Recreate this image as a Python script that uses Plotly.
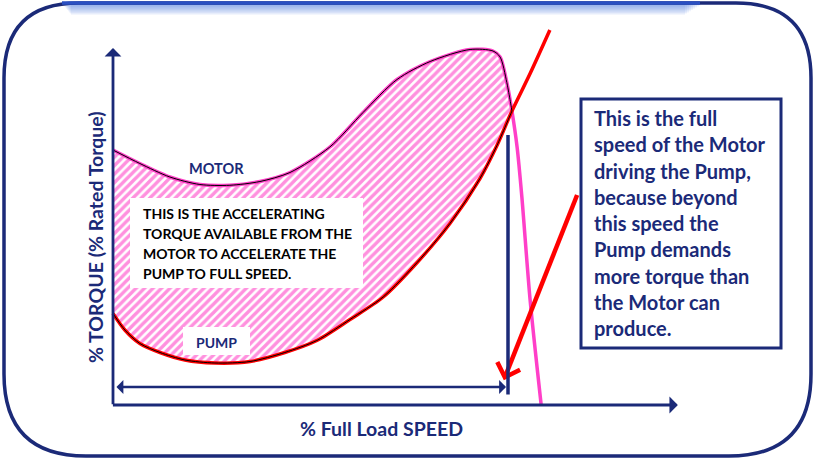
import math
import plotly.graph_objects as go

W, H = 818, 461

# ---------------- data (speed in % of full-load speed, torque in % rated) -------------
motor_speed = [0, 6.8, 14.4, 22.0, 29.6, 37.2, 44.8, 54.9, 63.3, 71.9, 80.3, 90.4,
               96.2, 98.0, 99.7, 101.0, 102.3, 103.5, 105.6, 108.4]
motor_torque = [170, 161, 152, 147, 146.5, 149, 155, 172, 195, 217, 229, 237,
                236, 232, 215, 196, 172, 139, 70, 0]
pump_speed = [0, 3.0, 6.8, 11.9, 18.2, 25.8, 34.7, 43.5, 51.6, 60.0, 68.4, 77.0,
              85.3, 92.9, 97.2, 101.0, 105.6, 110.6]
pump_torque = [61, 50, 41, 35, 30, 28, 29, 35, 43, 57, 72, 95,
               121, 151, 173, 196, 221, 250]
crossing_speed = 101.0
full_speed = 100
speed_axis_end = 143
torque_axis_end = 238
pointer_from = (117.5, 140)
pointer_to = (99.2, 18.5)

box_lines = ["This is the full", "speed of the Motor", "driving the Pump,",
             "because beyond", "this speed the", "Pump demands",
             "more torque than", "the Motor can", "produce."]
accel_lines = ["THIS IS THE ACCELERATING", "TORQUE AVAILABLE FROM THE",
               "MOTOR TO ACCELERATE THE", "PUMP TO FULL SPEED."]

# ---------------- style ----------------
NAVY = "#1B2A78"
PINK = "#FF3FC8"
RED = "#FF0000"
FONT = "Lato"

# pixel <-> axis mapping of the drawing
X0, SX = 113, 3.95
Y0, SY = 405, 1.5
xr = [(0 - X0) / SX, (W - X0) / SX]
yr = [(Y0 - H) / SY, Y0 / SY]


def fx(p):
    return p / W


def fy(p):
    return 1 - p / H


fig = go.Figure()

# hatched accelerating-torque region
m_idx = [i for i, s in enumerate(motor_speed) if s <= crossing_speed]
p_idx = [i for i, s in enumerate(pump_speed) if s <= crossing_speed]
reg_x = [motor_speed[i] for i in m_idx] + [pump_speed[i] for i in reversed(p_idx)]
reg_y = [motor_torque[i] for i in m_idx] + [pump_torque[i] for i in reversed(p_idx)]

fig.add_trace(go.Scatter(
    x=reg_x, y=reg_y, mode="lines", fill="toself",
    line=dict(width=0, shape="spline", smoothing=0.8),
    fillcolor="white",
    fillpattern=dict(shape="/", fgcolor="#FF22BE", bgcolor="white", size=6, solidity=0.58),
    hoverinfo="skip", showlegend=False))

fig.add_trace(go.Scatter(x=motor_speed, y=motor_torque, mode="lines",
                         line=dict(color=PINK, width=3.5, shape="spline", smoothing=0.8),
                         showlegend=False, hoverinfo="skip"))
fig.add_trace(go.Scatter(x=pump_speed, y=pump_torque, mode="lines",
                         line=dict(color=RED, width=3.5, shape="spline", smoothing=0.8),
                         showlegend=False, hoverinfo="skip"))
fig.add_trace(go.Scatter(x=reg_x, y=reg_y, mode="lines",
                         line=dict(color="black", width=1, shape="spline", smoothing=0.8),
                         showlegend=False, hoverinfo="skip"))

# red pointer arrow with open "V" head (head computed in pixel space)
sx_, sy_ = X0 + pointer_from[0] * SX, Y0 - pointer_from[1] * SY
tx_, ty_ = X0 + pointer_to[0] * SX, Y0 - pointer_to[1] * SY
back = math.atan2(sy_ - ty_, sx_ - tx_)
hl = 17
barbs = []
for ang in (back + math.radians(42), back - math.radians(48)):
    barbs.append((tx_ + hl * math.cos(ang), ty_ + hl * math.sin(ang)))


def to_data(p):
    return (p[0] - X0) / SX, (Y0 - p[1]) / SY


b1, b2 = to_data(barbs[0]), to_data(barbs[1])
fig.add_trace(go.Scatter(x=[pointer_from[0], pointer_to[0]], y=[pointer_from[1], pointer_to[1]],
                         mode="lines", line=dict(color=RED, width=4.5),
                         showlegend=False, hoverinfo="skip"))
fig.add_trace(go.Scatter(x=[b1[0], pointer_to[0], b2[0]], y=[b1[1], pointer_to[1], b2[1]],
                         mode="lines", line=dict(color=RED, width=4.5),
                         showlegend=False, hoverinfo="skip"))

shapes = []
annotations = []

# outer rounded frame
L, R, T, B, r = 4, 811, 3, 456, 75
rb = 82
path = (f"M{fx(L+r)},{fy(T)} L{fx(R-r)},{fy(T)} Q{fx(R)},{fy(T)} {fx(R)},{fy(T+r)} "
        f"L{fx(R)},{fy(B-rb)} Q{fx(R)},{fy(B)} {fx(R-rb)},{fy(B)} "
        f"L{fx(L+rb)},{fy(B)} Q{fx(L)},{fy(B)} {fx(L)},{fy(B-rb)} "
        f"L{fx(L)},{fy(T+r)} Q{fx(L)},{fy(T)} {fx(L+r)},{fy(T)} Z")
# top glow
for k in range(10):
    shapes.append(dict(type="rect", xref="paper", yref="paper",
                       x0=fx(62 + k), x1=fx(703 - k * 2), y0=fy(4 + k * 1.2), y1=fy(3),
                       fillcolor="#4F7FE0", opacity=0.09, line=dict(width=0), layer="below"))
shapes.append(dict(type="path", xref="paper", yref="paper", path=path,
                   line=dict(color=NAVY, width=3.5), layer="above"))
shapes.append(dict(type="line", xref="paper", yref="paper",
                   x0=fx(62), x1=fx(700), y0=fy(3), y1=fy(3),
                   line=dict(color="#2A4FC2", width=3.5)))

# full speed vertical line
shapes.append(dict(type="line", xref="x", yref="y", x0=full_speed, x1=full_speed,
                   y0=7, y1=180, line=dict(color=NAVY, width=3.5)))

# white label boxes
shapes.append(dict(type="rect", xref="paper", yref="paper",
                   x0=fx(130), x1=fx(363), y0=fy(288), y1=fy(198),
                   fillcolor="white", line=dict(width=0), layer="above"))
shapes.append(dict(type="rect", xref="paper", yref="paper",
                   x0=fx(183), x1=fx(250), y0=fy(355), y1=fy(327),
                   fillcolor="white", line=dict(width=0), layer="above"))
# right explanation box
shapes.append(dict(type="rect", xref="paper", yref="paper",
                   x0=fx(581), x1=fx(781), y0=fy(348), y1=fy(99),
                   fillcolor="white", line=dict(color=NAVY, width=3), layer="above"))

# axes arrows
annotations.append(dict(x=0, y=torque_axis_end, ax=0, ay=-0.5, xref="x", yref="y",
                        axref="x", ayref="y", text="", showarrow=True, arrowhead=1,
                        arrowsize=1, arrowwidth=2.8, arrowcolor=NAVY))
annotations.append(dict(x=speed_axis_end, y=0, ax=-0.4, ay=0, xref="x", yref="y",
                        axref="x", ayref="y", text="", showarrow=True, arrowhead=1,
                        arrowsize=1, arrowwidth=2.8, arrowcolor=NAVY))
# speed range double arrow
annotations.append(dict(x=full_speed - 0.5, y=12, ax=0.5, ay=12, xref="x", yref="y",
                        axref="x", ayref="y", text="", showarrow=True, arrowhead=1,
                        startarrowhead=1, arrowside="end+start", arrowsize=1,
                        startarrowsize=1, arrowwidth=2.3, arrowcolor=NAVY))


def label(x, y, text, size, color, xanchor="center", angle=0):
    annotations.append(dict(x=fx(x), y=fy(y), xref="paper", yref="paper", text=text,
                            showarrow=False, xanchor=xanchor, yanchor="middle",
                            textangle=angle,
                            font=dict(family=FONT, size=size, color=color, weight="bold")))


for i, t in enumerate(box_lines):
    label(592, 118 + i * 26.25, t, 20, NAVY, xanchor="left")
for i, t in enumerate(accel_lines):
    label(141, 213 + i * 20, t, 14, "black", xanchor="left")
label(217, 169, "MOTOR", 14.5, NAVY)
label(217, 342, "PUMP", 14, NAVY)
label(381, 428, "% Full Load SPEED", 19.5, NAVY)
label(95, 237, "% TORQUE (% Rated Torque)", 19.5, NAVY, angle=-90)

fig.update_layout(
    width=W, height=H, margin=dict(l=0, r=0, t=0, b=0),
    paper_bgcolor="white", plot_bgcolor="white",
    xaxis=dict(range=xr, visible=False, fixedrange=True),
    yaxis=dict(range=yr, visible=False, fixedrange=True),
    shapes=shapes, annotations=annotations, showlegend=False)

fig.write_html("out.html")
